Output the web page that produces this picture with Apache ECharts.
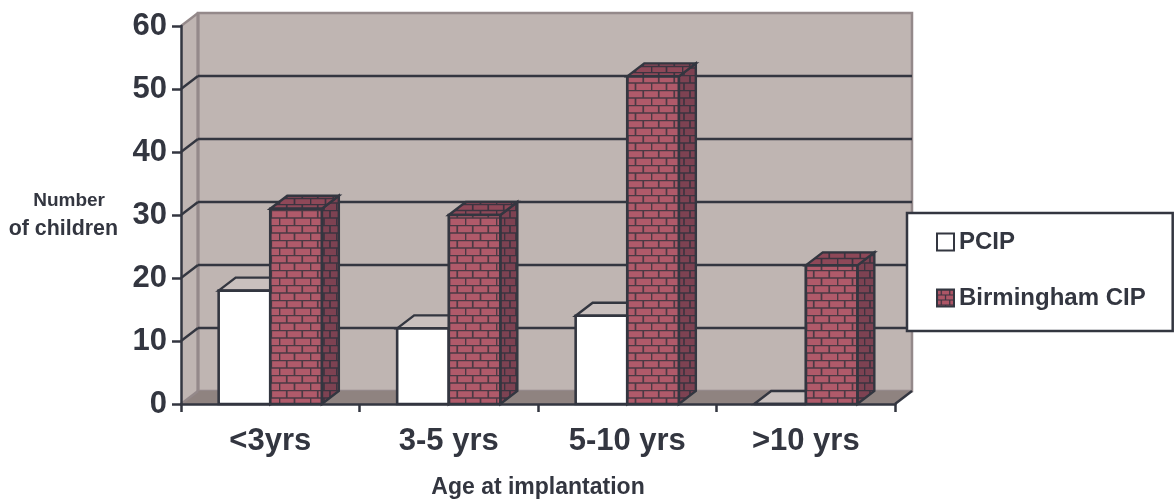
<!DOCTYPE html>
<html><head><meta charset="utf-8">
<style>html,body{margin:0;padding:0;background:#fff}#c{width:1175px;height:499px}</style>
<script src="https://cdn.jsdelivr.net/npm/echarts@6/dist/echarts.min.js"></script>
</head><body><div id="c"></div>
<script>
const categories = ['<3yrs', '3-5 yrs', '5-10 yrs', '>10 yrs'];
const pcip = [18, 12, 14, 0];
const birmingham = [31, 30, 52, 22];
const yTicks = [0, 10, 20, 30, 40, 50, 60];

const INK = '#333640', EDGE = '#94898a', DX = 17, DY = -13, BAR_RATIO = 0.289;
const FONT = '"Liberation Sans", Arial, sans-serif';

function brick(w, h, base, mortar, lw) {
  const c = document.createElement('canvas');
  c.width = w; c.height = h;
  const g = c.getContext('2d');
  g.fillStyle = base; g.fillRect(0, 0, w, h);
  g.strokeStyle = mortar; g.lineWidth = lw;
  const hh = h / 2;
  g.beginPath();
  g.moveTo(0, 0.5); g.lineTo(w, 0.5);
  g.moveTo(0, hh + 0.5); g.lineTo(w, hh + 0.5);
  g.moveTo(w * 0.25, 0); g.lineTo(w * 0.25, hh);
  g.moveTo(w * 0.75, 0); g.lineTo(w * 0.75, hh);
  g.moveTo(0.5, hh); g.lineTo(0.5, h);
  g.moveTo(w * 0.5, hh); g.lineTo(w * 0.5, h);
  g.stroke();
  return { image: c, repeat: 'repeat' };
}
const frontFill = brick(31, 15, '#b05a6a', '#4b3a44', 1.7);
const sideFill = brick(24, 15, '#7d4252', '#3c3440', 1.7);
const topFill = brick(31, 12, '#8e4858', '#3c3440', 1.7);
const legendFill = brick(17, 10, '#ad5566', '#3c3440', 1.2);

function poly(points, fill, stroke, w) {
  return { type: 'polygon', shape: { points }, style: { fill, stroke, lineWidth: w, lineJoin: 'miter' } };
}
function seg(x1, y1, x2, y2, stroke, w) {
  return { type: 'line', shape: { x1, y1, x2, y2 }, style: { stroke, lineWidth: w, fill: null } };
}

function renderWalls(params, api) {
  const cs = params.coordSys;
  const l = cs.x, r = cs.x + cs.width, b = cs.y + cs.height, t = cs.y;
  const kids = [
    poly([[l, b], [l + DX, b + DY], [l + DX, t + DY], [l, t]], '#bfb5b2', null, 0),
    poly([[l + DX, t + DY], [r + DX, t + DY], [r + DX, b + DY], [l + DX, b + DY]], '#bfb5b2', EDGE, 2.5),
    poly([[l, b], [l + DX, b + DY], [r + DX, b + DY], [r, b]], '#8f8380', null, 0),
    seg(l + DX, t + DY, l + DX, b + DY, EDGE, 3),
    seg(r, b, r + DX, b + DY, INK, 2.5)
  ];
  yTicks.forEach(v => {
    const y = api.coord([0, v])[1];
    const inner = v > 0 && v < 60;
    if (inner) kids.push(seg(l + DX, y + DY, r + DX, y + DY, INK, 2.4));
    kids.push(seg(l, y, l + DX, y + DY, inner ? INK : EDGE, 2.4));
  });
  return { type: 'group', children: kids };
}

function renderBar(slot, front, side, top) {
  return function (params, api) {
    const p = api.coord([api.value(0), api.value(1)]);
    const base = api.coord([api.value(0), 0])[1];
    const w = api.size([1, 0])[0] * BAR_RATIO;
    const x0 = p[0] + slot * w, x1 = x0 + w, y = p[1];
    return { type: 'group', children: [
      poly([[x1, y], [x1 + DX, y + DY], [x1 + DX, base + DY], [x1, base]], side, INK, 2.4),
      poly([[x0, y], [x0 + DX, y + DY], [x1 + DX, y + DY], [x1, y]], top, INK, 2.4),
      poly([[x0, y], [x1, y], [x1, base], [x0, base]], front, INK, 2.6)
    ] };
  };
}

const chart = echarts.init(document.getElementById('c'), null, { renderer: 'canvas' });
chart.setOption({
  animation: false,
  textStyle: { fontFamily: FONT },
  grid: { left: 181, right: 280, top: 26, bottom: 95, outerBoundsMode: 'none' },
  legend: {
    left: 907, top: 213, orient: 'vertical',
    padding: [17, 27, 21, 29], itemGap: 32, itemWidth: 17, itemHeight: 17,
    backgroundColor: '#fff', borderColor: INK, borderWidth: 2.5, borderRadius: 0,
    selectedMode: false, itemStyle: { borderColor: INK, borderWidth: 2 },
    textStyle: { color: INK, fontWeight: 'bold', fontSize: 24, fontFamily: FONT },
    data: [
      { name: 'PCIP', icon: 'rect', itemStyle: { color: '#fff', borderColor: INK, borderWidth: 2 } },
      { name: 'Birmingham CIP', icon: 'rect', itemStyle: { color: legendFill, borderColor: INK, borderWidth: 2 } }
    ]
  },
  xAxis: {
    type: 'category', data: categories, z: 5,
    axisLine: { lineStyle: { color: INK, width: 2.5 } },
    axisTick: { show: true, alignWithLabel: false, length: 8, lineStyle: { color: INK, width: 2.5 } },
    axisLabel: { color: INK, fontWeight: 'bold', fontSize: 31, margin: 22, fontFamily: FONT },
    name: 'Age at implantation', nameLocation: 'middle', nameGap: 72,
    nameTextStyle: { color: INK, fontWeight: 'bold', fontSize: 23, fontFamily: FONT }
  },
  yAxis: {
    type: 'value', min: 0, max: 60, interval: 10, z: 5,
    splitLine: { show: false },
    axisLine: { show: true, lineStyle: { color: INK, width: 2.5 } },
    axisTick: { show: true, length: 9, lineStyle: { color: INK, width: 2.5 } },
    axisLabel: { color: INK, fontWeight: 'bold', fontSize: 31, margin: 14, fontFamily: FONT },
    name: '{a|Number}\n{b|of children}', nameLocation: 'middle', nameRotate: 0, nameGap: 63,
    nameTextStyle: {
      color: INK, fontWeight: 'bold', fontSize: 21, lineHeight: 28, fontFamily: FONT, align: 'right',
      rich: {
        a: { fontWeight: 'bold', fontSize: 19, color: INK, lineHeight: 28, padding: [0, 13, 0, 0], fontFamily: FONT },
        b: { fontWeight: 'bold', fontSize: 21.4, color: INK, lineHeight: 28, fontFamily: FONT }
      }
    }
  },
  series: [
    { type: 'custom', name: 'walls', silent: true, z: 1, renderItem: renderWalls,
      encode: { x: 0, y: 1 }, data: [[categories[0], 0]] },
    { type: 'custom', name: 'PCIP', z: 2, encode: { x: 0, y: 1 },
      itemStyle: { color: '#fff' },
      renderItem: renderBar(-1, '#fff', '#fff', '#c9c0be'),
      data: categories.map((c, i) => [c, pcip[i]]) },
    { type: 'custom', name: 'Birmingham CIP', z: 3, encode: { x: 0, y: 1 },
      itemStyle: { color: '#ad5566' },
      renderItem: renderBar(0, frontFill, sideFill, topFill),
      data: categories.map((c, i) => [c, birmingham[i]]) }
  ]
});
</script></body></html>
